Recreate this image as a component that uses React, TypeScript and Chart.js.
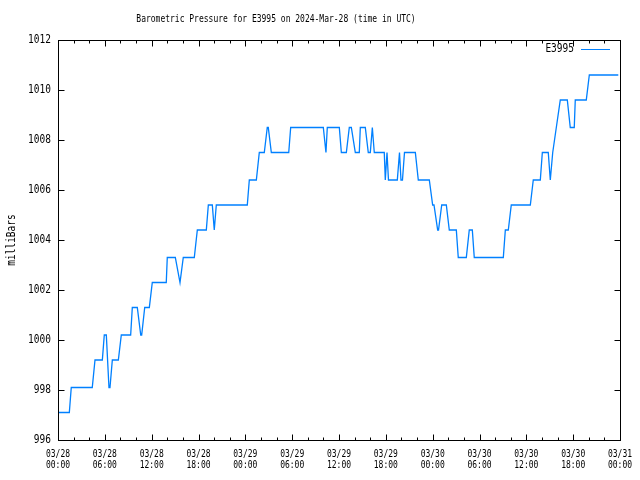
import { useEffect, useRef } from "react";
import { Chart, registerables } from "chart.js";

Chart.register(...registerables);

// Hours since 2024-03-28 00:00 UTC
const hours = [
  0, 1.45, 1.7, 4.39, 4.74, 5.68, 5.93, 6.19, 6.53, 6.66,
  6.96, 7.73, 8.11, 9.31, 9.52, 10.16, 10.6, 10.72, 11.11, 11.7,
  12.08, 13.87, 14.0, 15.03, 15.63, 16.05, 17.46, 17.85, 19.0, 19.26,
  19.77, 20.02, 20.28, 24.25, 24.51, 25.41, 25.79, 26.43, 26.81, 26.94,
  27.33, 29.56, 29.81, 33.99, 34.33, 34.5, 36.04, 36.3, 36.94, 37.32,
  37.58, 38.09, 38.6, 38.73, 39.37, 39.75, 40.01, 40.27, 40.52, 41.8,
  41.93, 42.15, 42.34, 43.47, 43.75, 43.94, 44.13, 44.39, 45.78, 46.16,
  47.57, 48.0, 48.17, 48.64, 48.75, 49.16, 49.75, 50.13, 51.03, 51.28,
  52.31, 52.69, 53.08, 53.33, 57.05, 57.31, 57.69, 58.07, 60.51, 60.89,
  61.79, 62.05, 62.81, 63.07, 63.38, 63.84, 64.35, 65.25, 65.63, 66.14,
  66.27, 67.68, 68.07, 71.78,
];

const pressure = [
  997.1, 997.1, 998.1, 998.1, 999.2, 999.2, 1000.2, 1000.2, 998.1, 998.1,
  999.2, 999.2, 1000.2, 1000.2, 1001.3, 1001.3, 1000.2, 1000.2, 1001.3, 1001.3,
  1002.3, 1002.3, 1003.3, 1003.3, 1002.3, 1003.3, 1003.3, 1004.4, 1004.4, 1005.4,
  1005.4, 1004.4, 1005.4, 1005.4, 1006.4, 1006.4, 1007.5, 1007.5, 1008.5, 1008.5,
  1007.5, 1007.5, 1008.5, 1008.5, 1007.5, 1008.5, 1008.5, 1007.5, 1007.5, 1008.5,
  1008.5, 1007.5, 1007.5, 1008.5, 1008.5, 1007.5, 1007.5, 1008.5, 1007.5, 1007.5,
  1006.4, 1007.5, 1006.4, 1006.4, 1007.5, 1006.4, 1006.4, 1007.5, 1007.5, 1006.4,
  1006.4, 1005.4, 1005.4, 1004.4, 1004.4, 1005.4, 1005.4, 1004.4, 1004.4, 1003.3,
  1003.3, 1004.4, 1004.4, 1003.3, 1003.3, 1004.4, 1004.4, 1005.4, 1005.4, 1006.4,
  1006.4, 1007.5, 1007.5, 1006.4, 1007.5, 1008.5, 1009.6, 1009.6, 1008.5, 1008.5,
  1009.6, 1009.6, 1010.6, 1010.6,
];

const xTickHours = [0, 6, 12, 18, 24, 30, 36, 42, 48, 54, 60, 66, 72];
const xTickDates = ["03/28", "03/28", "03/28", "03/28", "03/29", "03/29", "03/29", "03/29", "03/30", "03/30", "03/30", "03/30", "03/31"];
const xTickTimes = ["00:00", "06:00", "12:00", "18:00", "00:00", "06:00", "12:00", "18:00", "00:00", "06:00", "12:00", "18:00", "00:00"];
const yTicks = [996, 998, 1000, 1002, 1004, 1006, 1008, 1010, 1012];

const titleText = "Barometric Pressure for E3995 on 2024-Mar-28 (time in UTC)";
const yTitleText = "milliBars";
const seriesName = "E3995";
const lineColor = "rgb(0,128,255)";
const FONT = '"DejaVu Sans Mono", "Liberation Mono", monospace';

function drawText(
  ctx: CanvasRenderingContext2D,
  text: string,
  x: number,
  y: number,
  align: CanvasTextAlign,
  size: number,
  sy = 1.35,
  rotate = 0
) {
  ctx.save();
  ctx.translate(x, y);
  if (rotate) ctx.rotate(rotate);
  ctx.scale(1, sy);
  ctx.font = `${size}px ${FONT}`;
  ctx.textAlign = align;
  ctx.textBaseline = "middle";
  ctx.fillStyle = "#000";
  ctx.fillText(text, 0, 0);
  ctx.restore();
}

const gnuplotDecor = {
  id: "gnuplotDecor",
  beforeDraw(chart: any) {
    const ctx = chart.ctx as CanvasRenderingContext2D;
    ctx.save();
    ctx.fillStyle = "#fff";
    ctx.fillRect(0, 0, chart.width, chart.height);
    ctx.restore();
  },
  afterDraw(chart: any) {
    const ctx = chart.ctx as CanvasRenderingContext2D;
    const a = chart.chartArea;
    const xs = chart.scales.x;
    const ys = chart.scales.y;
    const L = Math.round(a.left) + 0.5;
    const R = Math.round(a.right) + 0.5;
    const T = Math.round(a.top) + 0.5;
    const B = Math.round(a.bottom) + 0.5;

    ctx.save();
    ctx.strokeStyle = "#000";
    ctx.lineWidth = 1;
    ctx.beginPath();
    // x ticks every 2h, major every 6h
    for (let h = 0; h <= 72; h += 2) {
      const px = Math.round(xs.getPixelForValue(h)) + 0.5;
      const len = h % 6 === 0 ? 6 : 3;
      ctx.moveTo(px, B);
      ctx.lineTo(px, B - len);
      ctx.moveTo(px, T);
      ctx.lineTo(px, T + len);
    }
    for (const v of yTicks) {
      const py = Math.round(ys.getPixelForValue(v)) + 0.5;
      ctx.moveTo(L, py);
      ctx.lineTo(L + 6, py);
      ctx.moveTo(R, py);
      ctx.lineTo(R - 6, py);
    }
    ctx.stroke();
    ctx.strokeRect(L, T, R - L, B - T);
    ctx.restore();

    // y tick labels
    for (const v of yTicks) {
      const py = ys.getPixelForValue(v);
      drawText(ctx, String(v), a.left - 7, py, "right", 9.5, 1.25);
    }
    // x tick labels
    xTickHours.forEach((h, i) => {
      const px = xs.getPixelForValue(h);
      drawText(ctx, xTickDates[i], px, a.bottom + 14, "center", 8);
      drawText(ctx, xTickTimes[i], px, a.bottom + 25, "center", 8);
    });

    // title
    drawText(ctx, titleText, 276, 19, "center", 8);
    // y title
    drawText(ctx, yTitleText, 12, 240, "center", 9.5, 1.2, -Math.PI / 2);

    // legend
    drawText(ctx, seriesName, 574, 49, "right", 9.5, 1.25);
    ctx.save();
    ctx.strokeStyle = lineColor;
    ctx.lineWidth = 1;
    ctx.beginPath();
    ctx.moveTo(581, 49.5);
    ctx.lineTo(610, 49.5);
    ctx.stroke();
    ctx.restore();
  },
};

export default function App() {
  const ref = useRef<HTMLCanvasElement | null>(null);

  useEffect(() => {
    if (!ref.current) return;
    const data = hours.map((h, i) => ({ x: h, y: pressure[i] }));
    const chart = new Chart(ref.current, {
      type: "line",
      data: {
        datasets: [
          {
            label: seriesName,
            data,
            borderColor: lineColor,
            borderWidth: 1.3,
            pointRadius: 0,
            tension: 0,
            fill: false,
          },
        ],
      },
      options: {
        animation: false,
        responsive: false,
        devicePixelRatio: 1,
        layout: { padding: { left: 58, right: 20, top: 40, bottom: 40 } },
        plugins: {
          legend: { display: false },
          title: { display: false },
          tooltip: { enabled: false },
        },
        scales: {
          x: { type: "linear", min: 0, max: 72, display: false },
          y: { type: "linear", min: 996, max: 1012, display: false },
        },
      },
      plugins: [gnuplotDecor],
    });
    return () => chart.destroy();
  }, []);

  return (
    <div style={{ position: "absolute", left: 0, top: 0, width: 640, height: 480 }}>
      <canvas ref={ref} width={640} height={480} />
    </div>
  );
}
